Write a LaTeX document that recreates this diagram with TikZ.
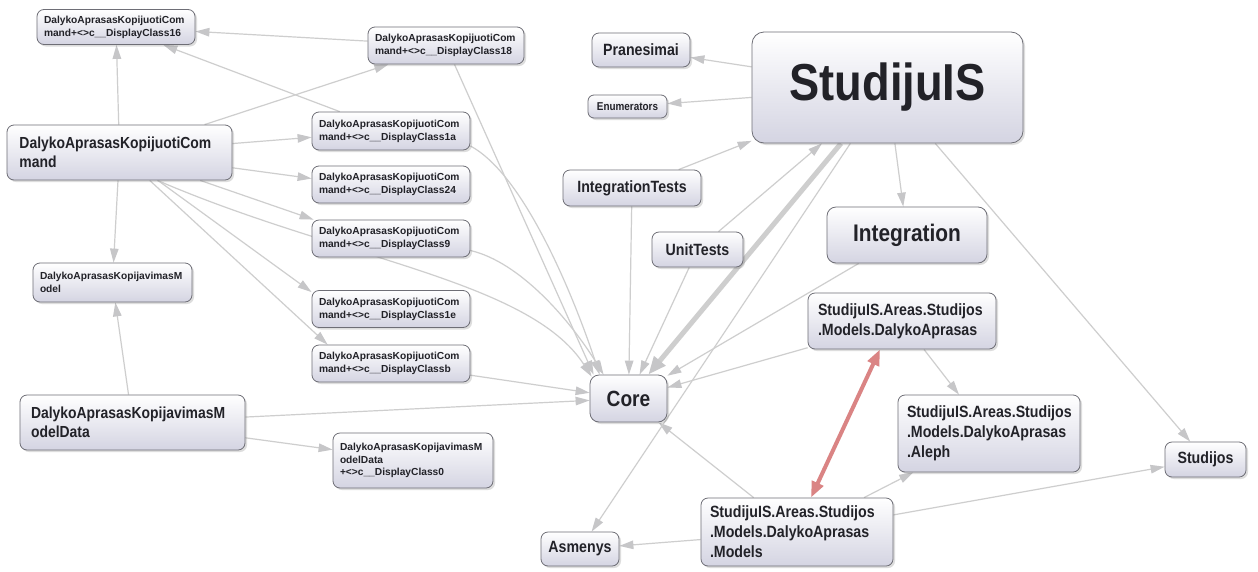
\documentclass[tikz,border=0pt]{standalone}
\usepackage{fontspec}
\setmainfont{Liberation Sans}
\newfontfamily\condbold{Liberation Sans}[FakeStretch=0.87]
\usetikzlibrary{arrows.meta,shadows,calc}

\definecolor{boxbot}{RGB}{212,212,226}
\definecolor{boxline}{RGB}{110,110,118}
\definecolor{txt}{RGB}{34,34,40}
\definecolor{edgec}{RGB}{206,206,206}
\definecolor{tipc}{RGB}{198,198,200}
\definecolor{redc}{RGB}{218,132,132}

\pgfdeclarelayer{paper}
\pgfdeclarelayer{wires}
\pgfsetlayers{paper,wires,main}

\tikzset{
  base/.style={draw=boxline, line width=0.8pt, rounded corners=7pt,
    top color=white, bottom color=boxbot, text=txt, inner sep=0pt,
    drop shadow={shadow xshift=2pt, shadow yshift=-2pt, opacity=0.22, fill=black!60}},
  sm/.style={base, align=left,
    font=\bfseries\fontsize{10.2}{12.8}\selectfont},
  md/.style={base, align=left,
    font=\condbold\bfseries\fontsize{16.3}{20}\selectfont},
  lone/.style={base, align=center,
    font=\condbold\bfseries\fontsize{16.3}{20}\selectfont},
  dep/.style={draw=edgec, line width=1.2pt,
    -{Triangle[length=14pt,width=8.5pt,color=tipc]}},
  heavy/.style={draw=edgec, line width=5pt,
    -{Triangle[length=18pt,width=14pt,color=tipc]}},
  mutual/.style={draw=redc, line width=4pt,
    {Triangle[length=16pt,width=12pt]}-{Triangle[length=16pt,width=12pt]}},
}

\begin{document}
\begin{tikzpicture}[x=1pt,y=-1pt]
\begin{pgfonlayer}{paper}
\fill[white] (0,0) rectangle (1258,571);
\end{pgfonlayer}
\useasboundingbox (0,0) rectangle (1258,571);

% ---- command classes (left) ----
\node[sm, minimum width=158pt, minimum height=35pt, text width=144pt] (dc16) at (116,27)
  {DalykoAprasasKopijuotiCom\\mand+<>c\_\_DisplayClass16};
\node[sm, minimum width=156pt, minimum height=37pt, text width=142pt] (dc18) at (446,45.5)
  {DalykoAprasasKopijuotiCom\\mand+<>c\_\_DisplayClass18};
\node[md, minimum width=225pt, minimum height=55pt, text width=200pt,
  font=\condbold\bfseries\fontsize{16}{19.5}\selectfont] (cmd) at (119.5,152.5)
  {DalykoAprasasKopijuotiCom\\mand};
\node[sm, minimum width=158pt, minimum height=38pt, text width=144pt] (dc1a) at (391,131)
  {DalykoAprasasKopijuotiCom\\mand+<>c\_\_DisplayClass1a};
\node[sm, minimum width=158pt, minimum height=37pt, text width=144pt] (dc24) at (391,184.5)
  {DalykoAprasasKopijuotiCom\\mand+<>c\_\_DisplayClass24};
\node[sm, minimum width=158pt, minimum height=37pt, text width=144pt] (dc9) at (391,238.5)
  {DalykoAprasasKopijuotiCom\\mand+<>c\_\_DisplayClass9};
\node[sm, minimum width=158pt, minimum height=37pt, text width=144pt] (dc1e) at (391,309)
  {DalykoAprasasKopijuotiCom\\mand+<>c\_\_DisplayClass1e};
\node[sm, minimum width=158pt, minimum height=37pt, text width=144pt] (dc1b) at (391,363.5)
  {DalykoAprasasKopijuotiCom\\mand+<>c\_\_DisplayClassb};
\node[sm, minimum width=159pt, minimum height=39pt, text width=145pt] (mkop) at (112.5,282.5)
  {DalykoAprasasKopijavimasM\\odel};
\node[md, minimum width=225pt, minimum height=55pt, text width=203pt,
  font=\condbold\bfseries\fontsize{16}{19.5}\selectfont] (mdata) at (132.5,422.5)
  {DalykoAprasasKopijavimasM\\odelData};
\node[sm, minimum width=160pt, minimum height=55pt, text width=146pt] (mdc0) at (413,460.5)
  {DalykoAprasasKopijavimasM\\odelData\\+<>c\_\_DisplayClass0};

% ---- projects ----
\node[lone, minimum width=98pt, minimum height=34pt] (pran) at (641,50) {Pranesimai};
\node[lone, minimum width=79pt, minimum height=23pt,
  font=\condbold\bfseries\fontsize{11.4}{14}\selectfont, rounded corners=6pt] (enum) at (627.5,106.5) {Enumerators};
\node[lone, minimum width=271pt, minimum height=111pt, rounded corners=12pt,
  font=\condbold\bfseries\fontsize{52}{60}\selectfont] (studijuis) at (887.5,87.5) {StudijuIS};
\node[lone, minimum width=138pt, minimum height=36pt] (itests) at (632,188) {IntegrationTests};
\node[lone, minimum width=91pt, minimum height=35pt] (utests) at (697.5,249.5) {UnitTests};
\node[lone, minimum width=160pt, minimum height=56pt, rounded corners=9pt,
  font=\condbold\bfseries\fontsize{24}{28}\selectfont] (integ) at (907,235) {Integration};
\node[lone, minimum width=77pt, minimum height=47pt, rounded corners=9pt,
  font=\condbold\bfseries\fontsize{22}{26}\selectfont] (core) at (628.5,398.5) {Core};
\node[md, minimum width=188pt, minimum height=56pt, text width=168pt] (sasda) at (902,321)
  {StudijuIS.Areas.Studijos\\.Models.DalykoAprasas};
\node[md, minimum width=182pt, minimum height=77pt, text width=164pt] (aleph) at (989,433.5)
  {StudijuIS.Areas.Studijos\\.Models.DalykoAprasas\\.Aleph};
\node[md, minimum width=192pt, minimum height=68pt, text width=174pt] (models) at (797,532)
  {StudijuIS.Areas.Studijos\\.Models.DalykoAprasas\\.Models};
\node[lone, minimum width=78pt, minimum height=34pt] (asm) at (580,549) {Asmenys};
\node[lone, minimum width=81pt, minimum height=35pt] (stud) at (1205.5,459.5) {Studijos};

\begin{pgfonlayer}{wires}
% ---- dependencies among the command classes ----
\draw[dep] (dc18) -- (dc16);
\draw[dep] (cmd) -- (dc16);
\draw[dep] (cmd) -- (dc18);
\draw[dep] (dc1a) -- (dc16);
\draw[dep] (cmd) -- (dc1a);
\draw[dep] (cmd) -- ($(dc24.west)+(0,-6)$);
\draw[dep] (cmd) -- ($(dc9.north west)+(2,0)$);
\draw[dep] (cmd) -- ($(dc1e.north west)+(0,2)$);
\draw[dep] (cmd) -- ($(dc1b.north west)+(16,0)$);
\draw[dep] (cmd) -- (mkop);
\draw[dep] (mdata) -- (mkop);
\draw[dep] (mdata) -- (mdc0);

% ---- everything that leans on Core ----
\draw[dep] (dc18) -- ($(core.north west)+(4,0)$);
\draw[dep] ($(dc1a.east)+(0,15)$) .. controls (525,175) and (575,300) .. ($(core.north west)+(10,0)$);
\draw[dep] ($(dc9.east)+(0,12)$) .. controls (520,262) and (570,320) .. ($(core.north west)+(14,0)$);
\draw[dep] ($(cmd.south east)+(-75,0)$) .. controls (340,259) and (530,280) .. ($(core.north west)+(2,2)$);
\draw[dep] (dc1b) -- (core);
\draw[dep] (mdata) -- (core);
\draw[dep] (itests) -- (core);
\draw[dep] (utests) -- (core);
\draw[dep] (integ) -- (core);
\draw[dep] (sasda) -- (core);
\draw[dep] (models) -- (core);
\draw[heavy] (studijuis) -- (core);

% ---- solution-level references ----
\draw[dep] (studijuis) -- (pran);
\draw[dep] (studijuis) -- (enum);
\draw[dep] (itests) -- (studijuis);
\draw[dep] (utests) -- (studijuis);
\draw[dep] (studijuis) -- (asm);
\draw[dep] (studijuis) -- (integ);
\draw[dep] (studijuis) -- (stud);
\draw[dep] (sasda) -- (aleph);
\draw[dep] (models) -- (aleph);
\draw[dep] (models) -- (stud);
\draw[dep] (models) -- (asm);

% ---- circular reference ----
\draw[mutual] ($(sasda.south)+(-22,0)$) -- ($(models.north)+(14,0)$);
\end{pgfonlayer}
\end{tikzpicture}
\end{document}
